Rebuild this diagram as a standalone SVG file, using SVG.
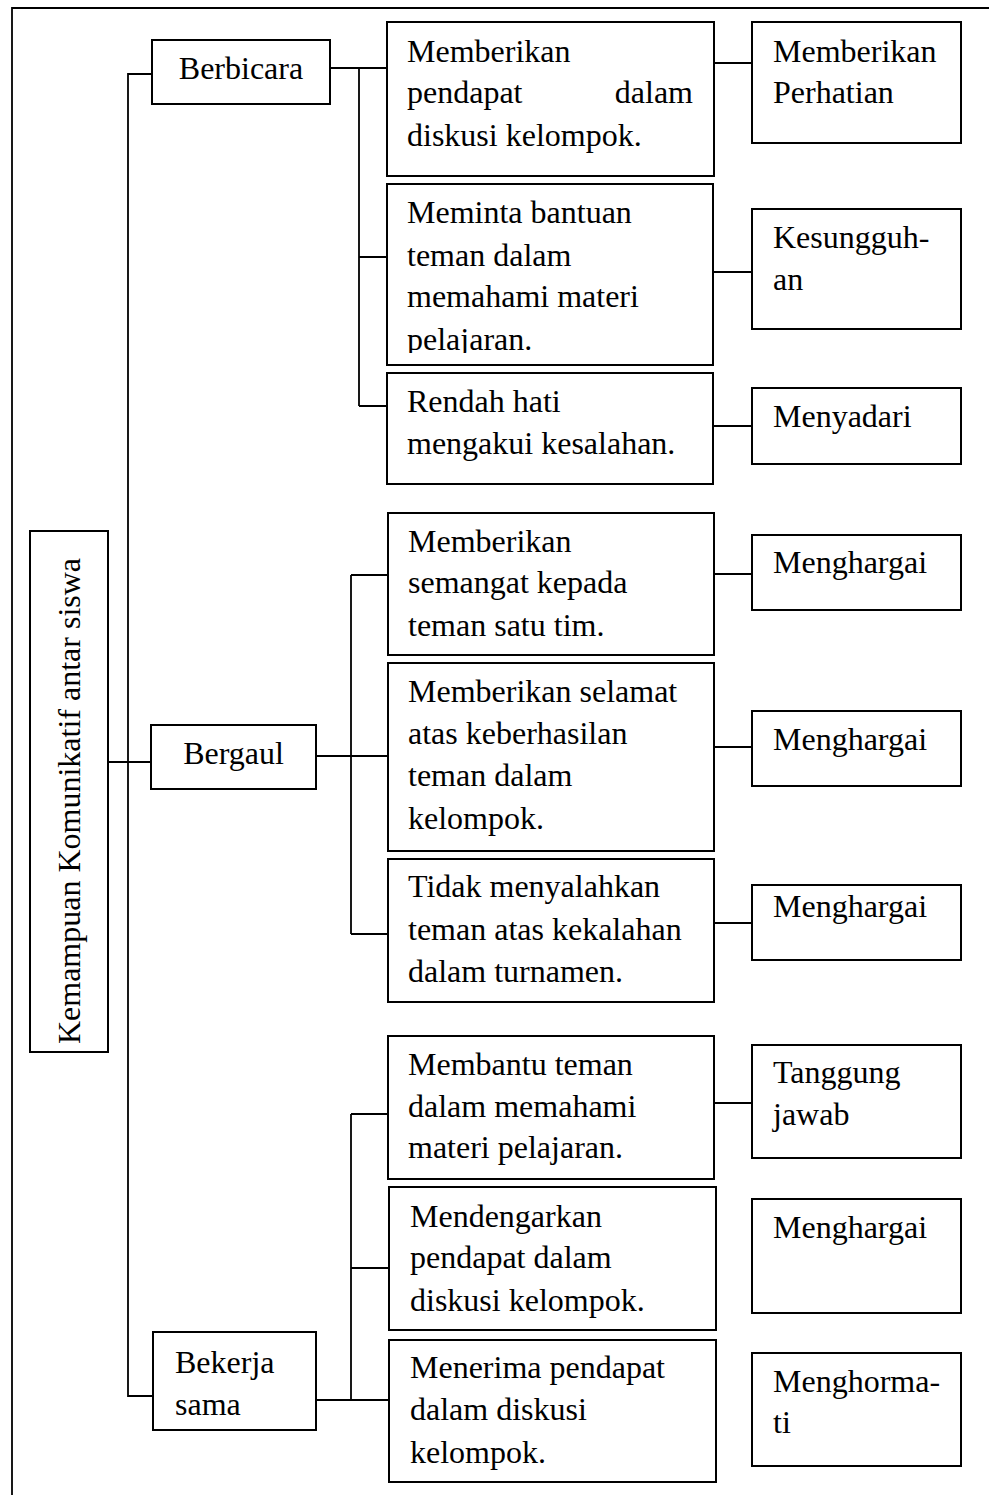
<svg xmlns="http://www.w3.org/2000/svg" width="989" height="1495" viewBox="0 0 989 1495">
<style>
.box{fill:#fff;stroke:#000;stroke-width:2}
.ln{fill:none;stroke:#000;stroke-width:1.8}
text{font-family:"Liberation Serif","Times New Roman",serif;font-size:32px;fill:#000}
.c{text-anchor:middle}
</style>
<defs>
<clipPath id="clipB2"><rect x="388" y="185" width="324" height="168"/></clipPath>
</defs>
<rect width="989" height="1495" fill="#fff"/>
<g id="frame"><path class="ln" d="M12,1495 V8 H989" stroke-width="2.2"/></g>
<g id="connectors">
<path class="ln" d="M152,74 H128 V1396 H153"/>
<path class="ln" d="M108,762 H151"/>
<path class="ln" d="M330,68 H387 M359,68 V406 M359,257 H387 M359,406 H387"/>
<path class="ln" d="M316,756 H388 M351,575 V934 M351,575 H388 M351,934 H388"/>
<path class="ln" d="M316,1400 H389 M351,1114 V1400 M351,1114 H388 M351,1268 H389"/>
<path class="ln" d="M714,63 H752 M713,272 H752 M713,426 H752"/>
<path class="ln" d="M714,574 H752 M714,747 H752 M714,923 H752"/>
<path class="ln" d="M714,1103 H752"/>
</g>
<g id="root">
<rect class="box" x="30" y="531" width="78" height="521"/>
<text class="c" x="80" y="801" transform="rotate(-90 80 801)">Kemampuan Komunikatif antar siswa</text>
</g>
<g id="berbicara">
<rect class="box" x="152" y="40" width="178" height="64"/>
<text class="c" x="241" y="79">Berbicara</text>
</g>
<g id="bergaul">
<rect class="box" x="151" y="725" width="165" height="64"/>
<text class="c" x="233.5" y="764">Bergaul</text>
</g>
<g id="bekerja">
<rect class="box" x="153" y="1332" width="163" height="98"/>
<text x="175" y="1373">Bekerja</text>
<text x="175" y="1415">sama</text>
</g>
<g id="a1">
<rect class="box" x="387" y="22" width="327" height="154"/>
<text x="407" y="62">Memberikan</text>
<text x="407" y="103">pendapat</text>
<text x="693" y="103" text-anchor="end">dalam</text>
<text x="407" y="146">diskusi kelompok.</text>
</g>
<g id="a2">
<rect class="box" x="387" y="184" width="326" height="181"/>
<g clip-path="url(#clipB2)">
<text x="407" y="223">Meminta bantuan</text>
<text x="407" y="266">teman dalam</text>
<text x="407" y="307">memahami materi</text>
<text x="407" y="350">pelajaran.</text>
</g>
</g>
<g id="a3">
<rect class="box" x="387" y="373" width="326" height="111"/>
<text x="407" y="412">Rendah hati</text>
<text x="407" y="454">mengakui kesalahan.</text>
</g>
<g id="b1">
<rect class="box" x="388" y="513" width="326" height="142"/>
<text x="408" y="552">Memberikan</text>
<text x="408" y="593">semangat kepada</text>
<text x="408" y="636">teman satu tim.</text>
</g>
<g id="b2">
<rect class="box" x="388" y="663" width="326" height="188"/>
<text x="408" y="702">Memberikan selamat</text>
<text x="408" y="744">atas keberhasilan</text>
<text x="408" y="786">teman dalam</text>
<text x="408" y="829">kelompok.</text>
</g>
<g id="b3">
<rect class="box" x="388" y="859" width="326" height="143"/>
<text x="408" y="897">Tidak menyalahkan</text>
<text x="408" y="940">teman atas kekalahan</text>
<text x="408" y="982">dalam turnamen.</text>
</g>
<g id="c1">
<rect class="box" x="388" y="1036" width="326" height="143"/>
<text x="408" y="1075">Membantu teman</text>
<text x="408" y="1117">dalam memahami</text>
<text x="408" y="1158">materi pelajaran.</text>
</g>
<g id="c2">
<rect class="box" x="389" y="1187" width="327" height="143"/>
<text x="410" y="1227">Mendengarkan</text>
<text x="410" y="1268">pendapat dalam</text>
<text x="410" y="1311">diskusi kelompok.</text>
</g>
<g id="c3">
<rect class="box" x="389" y="1340" width="327" height="142"/>
<text x="410" y="1378">Menerima pendapat</text>
<text x="410" y="1420">dalam diskusi</text>
<text x="410" y="1463">kelompok.</text>
</g>
<g id="r1">
<rect class="box" x="752" y="22" width="209" height="121"/>
<text x="773" y="62">Memberikan</text>
<text x="773" y="103">Perhatian</text>
</g>
<g id="r2">
<rect class="box" x="752" y="209" width="209" height="120"/>
<text x="773" y="248">Kesungguh-</text>
<text x="773" y="290">an</text>
</g>
<g id="r3">
<rect class="box" x="752" y="388" width="209" height="76"/>
<text x="773" y="427">Menyadari</text>
</g>
<g id="r4">
<rect class="box" x="752" y="535" width="209" height="75"/>
<text x="773" y="573">Menghargai</text>
</g>
<g id="r5">
<rect class="box" x="752" y="711" width="209" height="75"/>
<text x="773" y="750">Menghargai</text>
</g>
<g id="r6">
<rect class="box" x="752" y="885" width="209" height="75"/>
<text x="773" y="917">Menghargai</text>
</g>
<g id="r7">
<rect class="box" x="752" y="1045" width="209" height="113"/>
<text x="773" y="1083">Tanggung</text>
<text x="773" y="1125">jawab</text>
</g>
<g id="r8">
<rect class="box" x="752" y="1199" width="209" height="114"/>
<text x="773" y="1238">Menghargai</text>
</g>
<g id="r9">
<rect class="box" x="752" y="1353" width="209" height="113"/>
<text x="773" y="1392">Menghorma-</text>
<text x="773" y="1433">ti</text>
</g>
</svg>
